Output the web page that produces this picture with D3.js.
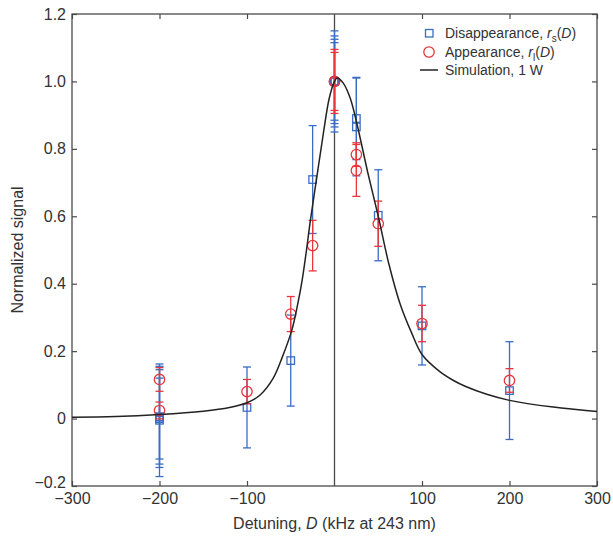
<!DOCTYPE html>
<html>
<head>
<meta charset="utf-8">
<script src="https://cdn.jsdelivr.net/npm/d3@7"></script>
<style>
  body { margin: 0; background: #fff; }
  text { font-family: "Liberation Sans", Arial, sans-serif; fill: #333; }
</style>
</head>
<body>
<script>
// ---- data ----
// disappearance (blue squares), several runs overlap at -200, 0 and 25 kHz
let disX   = [-200, -200, -200, -200, -100, -50, -25, 0, 0, 0, 0, 25, 25, 50, 100, 200];
let disY   = [-0.005, 0.005, 0.005, 0, 0.033, 0.172, 0.709, 1, 1, 1, 1, 0.89, 0.865, 0.603, 0.275, 0.083];
let disErr = [0.167, 0.15, 0.14, 0.12, 0.12, 0.135, 0.16, 0.15, 0.135, 0.125, 0.115, 0.122, 0.145, 0.135, 0.116, 0.145];

// appearance (red circles)
let appX   = [-200, -200, -100, -50, -25, 0, 0, 25, 25, 50, 100, 200];
let appY   = [0.116, 0.024, 0.08, 0.31, 0.513, 1, 1, 0.783, 0.736, 0.578, 0.282, 0.113];
let appErr = [0.035, 0.025, 0.036, 0.052, 0.075, 0.095, 0.086, 0.035, 0.077, 0.067, 0.054, 0.035];

// simulation curve, 1 W
let simX = [-300, -250, -200, -150, -120, -100, -85, -70, -60, -49, -42, -37, -32, -28, -20, -12.5, -6, 0, 3,
            10, 18, 26, 38, 50, 62, 75, 88, 100, 120, 136, 150, 174, 200, 250, 300];
let simY = [0.004, 0.006, 0.012, 0.022, 0.033, 0.047, 0.07, 0.12, 0.18, 0.26, 0.34, 0.41, 0.5, 0.58, 0.72, 0.85, 0.95, 1.0, 1.01,
            0.995, 0.95, 0.87, 0.73, 0.6, 0.46, 0.34, 0.255, 0.19, 0.14, 0.113, 0.095, 0.072, 0.054, 0.034, 0.021];

let xTicks = [-300, -200, -100, 100, 200, 300];
let xTickLabels = ["\u2212300", "\u2212200", "\u2212100", "100", "200", "300"];
let yTicks = [-0.2, 0, 0.2, 0.4, 0.6, 0.8, 1.0, 1.2];
let yTickLabels = ["\u22120.2", "0", "0.2", "0.4", "0.6", "0.8", "1.0", "1.2"];

// ---- layout ----
let w = 613, h = 536;
let margin = {top: 14, right: 16, bottom: 50, left: 72};
let blue = "#3a6cc2", red = "#e8363d", frame = "#4a4a4a";

let svg = d3.select("body").append("svg")
    .attr("width", w)
    .attr("height", h);

let xScale = d3.scaleLinear().domain([-300, 300]).range([margin.left, w - margin.right]);
let yScale = d3.scaleLinear().domain([-0.2, 1.2]).range([h - margin.bottom, margin.top]);

// axes, ticks point inward and are mirrored on top / right
let axisG = svg.append("g");
axisG.append("g")
    .attr("transform", "translate(0," + (h - margin.bottom) + ")")
    .call(d3.axisBottom(xScale).tickValues(xTicks).tickSize(-5).tickPadding(7)
        .tickFormat((d, i) => xTickLabels[i]));
axisG.append("g")
    .attr("transform", "translate(0," + margin.top + ")")
    .call(d3.axisTop(xScale).tickValues(xTicks).tickSize(-5).tickFormat(""));
axisG.append("g")
    .attr("transform", "translate(" + margin.left + ",0)")
    .call(d3.axisLeft(yScale).tickValues(yTicks).tickSize(-5).tickPadding(6)
        .tickFormat((d, i) => yTickLabels[i]));
axisG.append("g")
    .attr("transform", "translate(" + (w - margin.right) + ",0)")
    .call(d3.axisRight(yScale).tickValues(yTicks).tickSize(-5).tickFormat(""));

axisG.selectAll(".domain").attr("stroke", "none");
axisG.selectAll(".tick line").attr("stroke", frame).attr("stroke-width", 1.2);
axisG.selectAll(".tick text").attr("font-size", "16px").attr("fill", "#333")
    .attr("font-family", "'Liberation Sans', Arial, sans-serif");
// nudge the bottom-left -0.2 label up so it clears -300
axisG.selectAll(".tick text").filter(d => d === -0.2).attr("dy", "0.1em");

svg.append("rect")
    .attr("x", margin.left).attr("y", margin.top)
    .attr("width", w - margin.left - margin.right)
    .attr("height", h - margin.top - margin.bottom)
    .attr("fill", "none").attr("stroke", frame).attr("stroke-width", 1.3);

// zero detuning line
svg.append("line")
    .attr("x1", xScale(0)).attr("x2", xScale(0))
    .attr("y1", margin.top).attr("y2", h - margin.bottom)
    .attr("stroke", frame).attr("stroke-width", 1.3);

// axis titles
svg.append("text")
    .attr("x", (margin.left + w - margin.right) / 2)
    .attr("y", 529)
    .attr("text-anchor", "middle")
    .attr("font-size", "16px")
    .call(t => {
        t.append("tspan").text("Detuning, ");
        t.append("tspan").attr("font-style", "italic").text("D");
        t.append("tspan").text(" (kHz at 243 nm)");
    });

svg.append("text")
    .attr("transform", "translate(23," + (margin.top + h - margin.bottom) / 2 + ") rotate(-90)")
    .attr("text-anchor", "middle")
    .attr("font-size", "16px")
    .text("Normalized signal");

// error bars
let capW = 4;
function errorBars(xs, ys, es, color) {
    let g = svg.append("g").attr("stroke", color).attr("stroke-width", 1.3).attr("fill", "none");
    let idx = d3.range(xs.length);
    g.selectAll(".bar").data(idx).enter().append("line")
        .attr("x1", i => xScale(xs[i])).attr("x2", i => xScale(xs[i]))
        .attr("y1", i => yScale(ys[i] - es[i])).attr("y2", i => yScale(ys[i] + es[i]));
    g.selectAll(".capTop").data(idx).enter().append("line")
        .attr("x1", i => xScale(xs[i]) - capW).attr("x2", i => xScale(xs[i]) + capW)
        .attr("y1", i => yScale(ys[i] + es[i])).attr("y2", i => yScale(ys[i] + es[i]));
    g.selectAll(".capBot").data(idx).enter().append("line")
        .attr("x1", i => xScale(xs[i]) - capW).attr("x2", i => xScale(xs[i]) + capW)
        .attr("y1", i => yScale(ys[i] - es[i])).attr("y2", i => yScale(ys[i] - es[i]));
    return g;
}

let sq = 7.5;
errorBars(disX, disY, disErr, blue)
    .selectAll("rect").data(d3.range(disX.length)).enter().append("rect")
    .attr("x", i => xScale(disX[i]) - sq / 2)
    .attr("y", i => yScale(disY[i]) - sq / 2)
    .attr("width", sq).attr("height", sq)
    .attr("fill", "none");

errorBars(appX, appY, appErr, red)
    .selectAll("circle").data(d3.range(appX.length)).enter().append("circle")
    .attr("cx", i => xScale(appX[i]))
    .attr("cy", i => yScale(appY[i]))
    .attr("r", 5.2)
    .attr("fill", "none");

// simulation
let line = d3.line()
    .x(i => xScale(simX[i]))
    .y(i => yScale(simY[i]))
    .curve(d3.curveCatmullRom.alpha(0.5));

svg.append("path")
    .datum(d3.range(simX.length))
    .attr("d", line)
    .attr("fill", "none")
    .attr("stroke", "#222")
    .attr("stroke-width", 1.5);

// legend
let lg = svg.append("g").attr("font-size", "14px");
lg.append("rect").attr("x", 425.5).attr("y", 29.5).attr("width", 7.5).attr("height", 7.5)
    .attr("fill", "none").attr("stroke", blue).attr("stroke-width", 1.3);
lg.append("circle").attr("cx", 429).attr("cy", 52).attr("r", 5.2)
    .attr("fill", "none").attr("stroke", red).attr("stroke-width", 1.3);
lg.append("line").attr("x1", 420).attr("x2", 438).attr("y1", 70).attr("y2", 70)
    .attr("stroke", "#222").attr("stroke-width", 1.5);

function legendText(y, label, sub) {
    let t = lg.append("text").attr("x", 445).attr("y", y);
    t.append("tspan").text(label);
    if (sub) {
        t.append("tspan").attr("font-style", "italic").text("r");
        t.append("tspan").attr("font-size", "10px").attr("dy", 4).text(sub);
        t.append("tspan").attr("dy", -4).text("(");
        t.append("tspan").attr("font-style", "italic").text("D");
        t.append("tspan").text(")");
    }
}
legendText(38, "Disappearance, ", "s");
legendText(57, "Appearance, ", "l");
legendText(75, "Simulation, 1 W", null);
</script>
</body>
</html>
